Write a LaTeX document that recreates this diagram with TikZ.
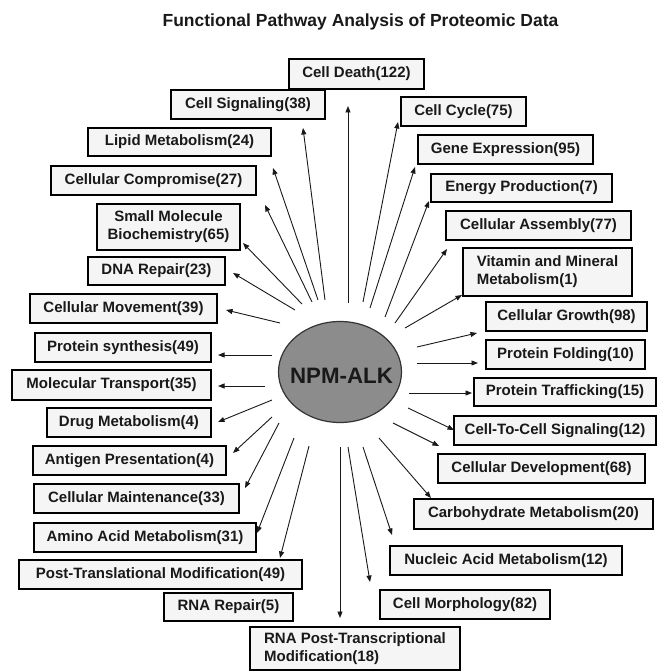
\documentclass[tikz,border=0pt]{standalone}
\usepackage{fontspec}
\setmainfont{Liberation Sans}
\usetikzlibrary{arrows.meta,shapes.geometric}
\begin{document}
\begin{tikzpicture}[x=1pt,y=-1pt,
  box/.style={draw=black, line width=2.2pt, fill=black!4, inner sep=0pt,
    font=\bfseries\fontsize{15}{18}\selectfont, text=black!90},
  arr/.style={line width=0.9pt, draw=black!90, -{Triangle[length=6.5pt,width=5pt]}},
  hub/.style={ellipse, draw=black!80, line width=1.2pt, fill=black!45,
    minimum width=123pt, minimum height=101pt, inner sep=0pt}]
\useasboundingbox (0,0) rectangle (660,671);

\node[font=\bfseries\fontsize{17.5}{20}\selectfont, text=black!90, anchor=base] (title) at (360.5,27) {Functional Pathway Analysis of Proteomic Data};

\node[hub] (hub) at (340,372) {};
\node[font=\bfseries\fontsize{22.3}{26}\selectfont, text=black!90, anchor=base] (hubtext) at (341.5,383) {NPM-ALK};

% boxes
\node[box, minimum width=135pt, minimum height=30pt] (death) at (356.5,74) {Cell Death(122)};
\node[box, minimum width=154pt, minimum height=29pt] (signal) at (248,104.5) {Cell Signaling(38)};
\node[box, minimum width=125pt, minimum height=29pt] (cycle) at (463.5,111.5) {Cell Cycle(75)};
\node[box, minimum width=183pt, minimum height=28pt] (lipid) at (179.5,142) {Lipid Metabolism(24)};
\node[box, minimum width=175pt, minimum height=29pt] (gene) at (505.5,149.5) {Gene Expression(95)};
\node[box, minimum width=205pt, minimum height=29pt] (compromise) at (153.5,180.5) {Cellular Compromise(27)};
\node[box, minimum width=181pt, minimum height=28pt] (energy) at (521.5,188) {Energy Production(7)};
\node[box, minimum width=143pt, minimum height=46pt, align=center] (smallmol) at (168.5,227) {Small Molecule\\Biochemistry(65)};
\node[box, minimum width=185pt, minimum height=29pt] (assembly) at (538.5,225.5) {Cellular Assembly(77)};
\node[box, minimum width=169pt, minimum height=48pt, align=left] (vitamin) at (547.5,272) {Vitamin and Mineral\\Metabolism(1)};
\node[box, minimum width=137pt, minimum height=28pt] (dna) at (156.5,271) {DNA Repair(23)};
\node[box, minimum width=161pt, minimum height=29pt] (growth) at (566.5,316.5) {Cellular Growth(98)};
\node[box, minimum width=187pt, minimum height=29pt] (movement) at (123.5,308.5) {Cellular Movement(39)};
\node[box, minimum width=176pt, minimum height=29pt] (psynth) at (123,347.5) {Protein synthesis(49)};
\node[box, minimum width=159pt, minimum height=29pt] (folding) at (565.5,354.5) {Protein Folding(10)};
\node[box, minimum width=199pt, minimum height=30pt] (moltrans) at (111.5,385) {Molecular Transport(35)};
\node[box, minimum width=182pt, minimum height=28pt] (traffic) at (565,392) {Protein Trafficking(15)};
\node[box, minimum width=164pt, minimum height=29pt] (drug) at (129,422.5) {Drug Metabolism(4)};
\node[box, minimum width=202pt, minimum height=29pt] (c2c) at (555,430.5) {Cell-To-Cell Signaling(12)};
\node[box, minimum width=193pt, minimum height=29pt] (antigen) at (129.5,460.5) {Antigen Presentation(4)};
\node[box, minimum width=207pt, minimum height=29pt] (develop) at (541.5,468.5) {Cellular Development(68)};
\node[box, minimum width=205pt, minimum height=29pt] (maint) at (136.5,498.5) {Cellular Maintenance(33)};
\node[box, minimum width=239pt, minimum height=30pt] (carbo) at (533.5,514) {Carbohydrate Metabolism(20)};
\node[box, minimum width=222pt, minimum height=29pt] (amino) at (145,537.5) {Amino Acid Metabolism(31)};
\node[box, minimum width=232pt, minimum height=29pt] (nucleic) at (506,560.5) {Nucleic Acid Metabolism(12)};
\node[box, minimum width=283pt, minimum height=29pt] (posttrans) at (160.5,574.5) {Post-Translational Modification(49)};
\node[box, minimum width=170pt, minimum height=29pt] (morph) at (465,604.5) {Cell Morphology(82)};
\node[box, minimum width=129pt, minimum height=28pt] (rnarep) at (228.5,607) {RNA Repair(5)};
\node[box, minimum width=210pt, minimum height=43pt, align=left] (rnapost) at (355,648.5) {RNA Post-Transcriptional\\Modification(18)};

% arrow start points (near hub) and tips
\coordinate (s1) at (348,303);  \coordinate (t1) at (348,106);
\coordinate (s2) at (325,300);  \coordinate (t2) at (303,128);
\coordinate (s3) at (318,300);  \coordinate (t3) at (273,168);
\coordinate (s4) at (312,302);  \coordinate (t4) at (265,205);
\coordinate (s5) at (302,304);  \coordinate (t5) at (243,243);
\coordinate (s6) at (295,310);  \coordinate (t6) at (233,273);
\coordinate (s7) at (280,323);  \coordinate (t7) at (226,310);
\coordinate (s8) at (272,355);  \coordinate (t8) at (218,355);
\coordinate (s9) at (265,386);  \coordinate (t9) at (218,386);
\coordinate (s10) at (272,400); \coordinate (t10) at (218,422);
\coordinate (s11) at (272,417); \coordinate (t11) at (233,453);
\coordinate (s12) at (279,423); \coordinate (t12) at (245,488);
\coordinate (s13) at (294,438); \coordinate (t13) at (257,533);
\coordinate (s14) at (309,446); \coordinate (t14) at (280,558);
\coordinate (s15) at (340,447); \coordinate (t15) at (340,618);
\coordinate (s16) at (348,447); \coordinate (t16) at (370,582);
\coordinate (s17) at (363,447); \coordinate (t17) at (392,535);
\coordinate (s18) at (379,438); \coordinate (t18) at (431,498);
\coordinate (s19) at (393,423); \coordinate (t19) at (439,446);
\coordinate (s20) at (408,408); \coordinate (t20) at (454,430);
\coordinate (s21) at (409,393); \coordinate (t21) at (472,393);
\coordinate (s22) at (417,363); \coordinate (t22) at (478,363);
\coordinate (s23) at (417,347); \coordinate (t23) at (477,333);
\coordinate (s24) at (405,328); \coordinate (t24) at (462,295);
\coordinate (s25) at (395,323); \coordinate (t25) at (447,249);
\coordinate (s26) at (385,317); \coordinate (t26) at (429,201);
\coordinate (s27) at (370,308); \coordinate (t27) at (415,167);
\coordinate (s28) at (363,302); \coordinate (t28) at (398,122);

\foreach \i in {1,...,28} {\draw[arr] (s\i) -- (t\i);}
\end{tikzpicture}
\end{document}
